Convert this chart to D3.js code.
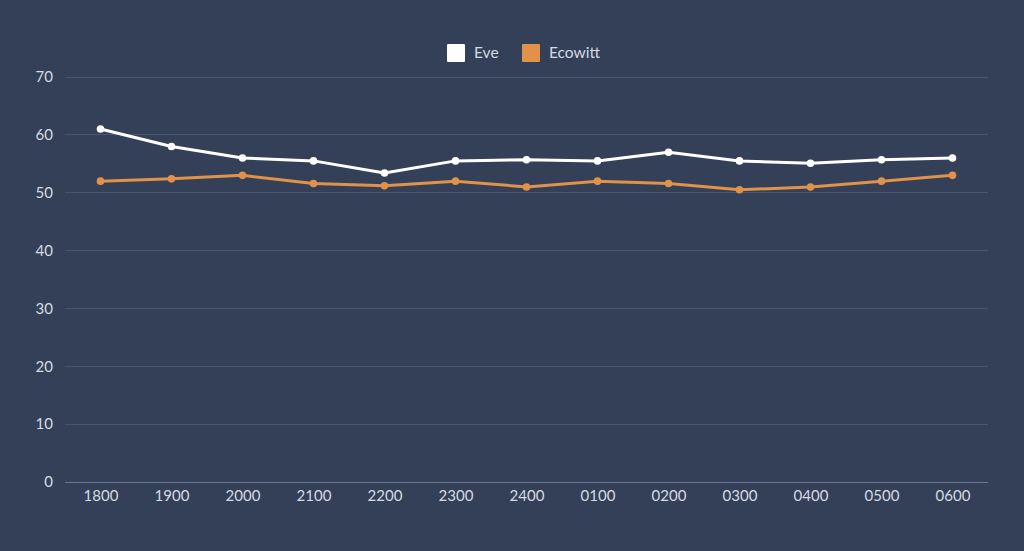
<!DOCTYPE html>
<html>
<head>
<meta charset="utf-8">
<script src="https://cdn.jsdelivr.net/npm/d3@7"></script>
<style>
  html, body { margin: 0; padding: 0; background: #334058; }
  svg { display: block; font-family: Lato, "Open Sans", sans-serif; }
</style>
</head>
<body>
<svg id="chart" width="1024" height="551"></svg>
<script>
// Data
const hours   = ['1800','1900','2000','2100','2200','2300','2400','0100','0200','0300','0400','0500','0600']
const eve     = [61, 58, 56, 55.5, 53.4, 55.5, 55.7, 55.5, 57, 55.5, 55.1, 55.7, 56]
const ecowitt = [52, 52.4, 53, 51.6, 51.2, 52, 51, 52, 51.6, 50.5, 51, 52, 53]
const yTicks  = [0, 10, 20, 30, 40, 50, 60, 70]

const series = [
  { name: 'Eve',     values: eve,     color: '#ffffff' },
  { name: 'Ecowitt', values: ecowitt, color: '#e0914a' },
]

const W = 1024, H = 551
const margin = { top: 77, right: 36, bottom: 69, left: 65 }
const iw = W - margin.left - margin.right
const ih = H - margin.top - margin.bottom

const svg = d3.select('#chart')
svg.append('rect').attr('width', W).attr('height', H).attr('fill', '#334058')

const g = svg.append('g').attr('transform', `translate(${margin.left},${margin.top})`)

const x = d3.scalePoint().domain(hours).range([0, iw]).padding(0.5)
const y = d3.scaleLinear().domain([0, 70]).range([ih, 0])

// Gridlines
g.append('g').selectAll('line')
  .data(yTicks).join('line')
  .attr('x1', 0).attr('x2', iw)
  .attr('y1', d => y(d)).attr('y2', d => y(d))
  .attr('stroke', d => d === 0 ? '#6c7791' : '#4a566f')
  .attr('stroke-width', 1)
  .attr('shape-rendering', 'crispEdges')

// Y axis labels
const yAxis = g.append('g').call(d3.axisLeft(y).tickValues(yTicks).tickSize(0).tickPadding(12))
yAxis.select('.domain').remove()
yAxis.selectAll('text').attr('fill', '#d6dae2').style('font-size', '15px').style('font-family', 'Lato, sans-serif')

// X axis labels
const xAxis = g.append('g').attr('transform', `translate(0,${ih})`)
  .call(d3.axisBottom(x).tickSize(0).tickPadding(8))
xAxis.select('.domain').remove()
xAxis.selectAll('text').attr('fill', '#d6dae2').style('font-size', '15px').style('font-family', 'Lato, sans-serif')

// Lines + points
const line = d3.line().x((d, i) => x(hours[i])).y(d => y(d))

series.slice().reverse().forEach(s => {
  g.append('path')
    .datum(s.values)
    .attr('fill', 'none')
    .attr('stroke', s.color)
    .attr('stroke-width', 3)
    .attr('stroke-linejoin', 'round')
    .attr('d', line)
  g.append('g').selectAll('circle')
    .data(s.values).join('circle')
    .attr('cx', (d, i) => x(hours[i]))
    .attr('cy', d => y(d))
    .attr('r', 3.8)
    .attr('fill', s.color)
})

// Legend
const legend = svg.append('g').attr('transform', 'translate(447,44)')
const items = legend.selectAll('g').data(series).join('g')
  .attr('transform', (d, i) => `translate(${i * 75},0)`)
items.append('rect')
  .attr('width', 18).attr('height', 18).attr('rx', 1)
  .attr('fill', d => d.color)
items.append('text')
  .attr('x', 27).attr('y', 9).attr('dy', '0.35em')
  .attr('fill', '#d6dae2')
  .style('font-size', '15.5px')
  .text(d => d.name)
</script>
</body>
</html>
